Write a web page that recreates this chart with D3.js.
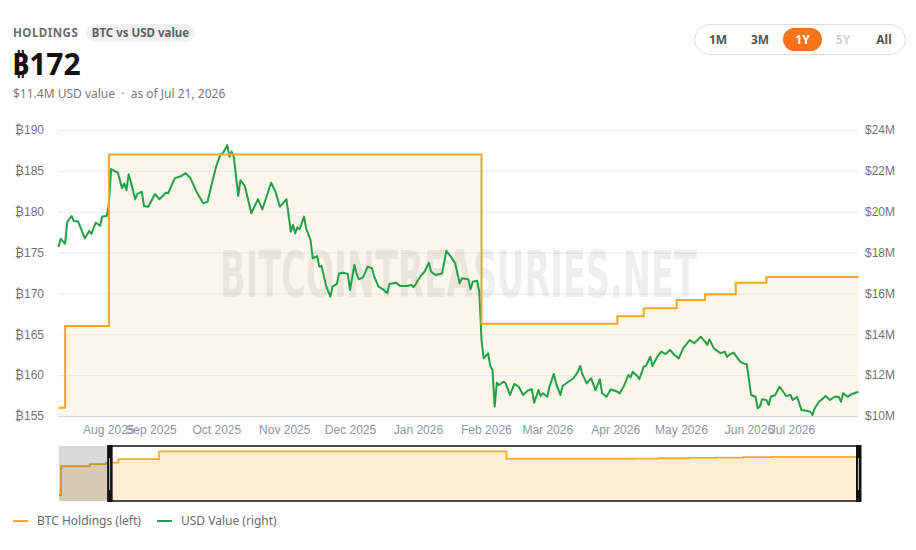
<!DOCTYPE html>
<html>
<head>
<meta charset="utf-8">
<script src="https://cdn.jsdelivr.net/npm/d3@7"></script>
<style>
  body { margin: 0; background: #fff; }
  svg { display: block; }
  .tick text { font-family: "Liberation Sans", Arial, sans-serif; font-size: 12px; }
</style>
</head>
<body>
<div id="chart"></div>
<script>
// ---- data ----
// BTC holdings (left axis), step changes
var holdingDates = ["2025-07-21", "2025-07-24", "2025-08-13", "2026-01-30", "2026-04-02", "2026-04-14",
    "2026-04-29", "2026-05-12", "2026-05-26", "2026-06-09", "2026-07-21"];
var holdingValues = [156, 166, 187, 166.3, 167.2, 168.2, 169.2, 169.9, 171.3, 172, 172];

// holdings before the 1Y window (only seen in the navigator)
var priorDates = ["2025-06-25", "2025-06-26", "2025-07-10", "2025-07-18"];
var priorValues = [66, 146, 152, 156];

// USD value in $M (right axis)
var usdDates = [
    "2025-07-21", "2025-07-22", "2025-07-24", "2025-07-25", "2025-07-27", "2025-07-28", "2025-07-30",
    "2025-08-02", "2025-08-04", "2025-08-05", "2025-08-07", "2025-08-09", "2025-08-10", "2025-08-12", "2025-08-13",
    "2025-08-14", "2025-08-16", "2025-08-17", "2025-08-19", "2025-08-20", "2025-08-21", "2025-08-22", "2025-08-23",
    "2025-08-25", "2025-08-26", "2025-08-28", "2025-08-29", "2025-08-31",
    "2025-09-03", "2025-09-05", "2025-09-08", "2025-09-09", "2025-09-12", "2025-09-15", "2025-09-17", "2025-09-19",
    "2025-09-22", "2025-09-25", "2025-09-27", "2025-09-29",
    "2025-10-01", "2025-10-03", "2025-10-04", "2025-10-06", "2025-10-07", "2025-10-08", "2025-10-09", "2025-10-11",
    "2025-10-12", "2025-10-14", "2025-10-17", "2025-10-20", "2025-10-22", "2025-10-24", "2025-10-26", "2025-10-28",
    "2025-10-30",
    "2025-11-02", "2025-11-04", "2025-11-05", "2025-11-06", "2025-11-07", "2025-11-08", "2025-11-10", "2025-11-11",
    "2025-11-13", "2025-11-14", "2025-11-16", "2025-11-17", "2025-11-18", "2025-11-20", "2025-11-22", "2025-11-23",
    "2025-11-25", "2025-11-26", "2025-11-28", "2025-11-30",
    "2025-12-01", "2025-12-03", "2025-12-04", "2025-12-05", "2025-12-07", "2025-12-09", "2025-12-11", "2025-12-12",
    "2025-12-14", "2025-12-16", "2025-12-18", "2025-12-19", "2025-12-22", "2025-12-24", "2025-12-27", "2025-12-29",
    "2025-12-30", "2025-12-31",
    "2026-01-02", "2026-01-04", "2026-01-06", "2026-01-07", "2026-01-09", "2026-01-12", "2026-01-14", "2026-01-16",
    "2026-01-18", "2026-01-20", "2026-01-21", "2026-01-24", "2026-01-25", "2026-01-26", "2026-01-28", "2026-01-29",
    "2026-01-30", "2026-01-31",
    "2026-02-02", "2026-02-03", "2026-02-04", "2026-02-05", "2026-02-06", "2026-02-07", "2026-02-09", "2026-02-10",
    "2026-02-12", "2026-02-14", "2026-02-16", "2026-02-18", "2026-02-20", "2026-02-22", "2026-02-23", "2026-02-25",
    "2026-02-26", "2026-02-27",
    "2026-03-01", "2026-03-02", "2026-03-04", "2026-03-05", "2026-03-07", "2026-03-08", "2026-03-10", "2026-03-13",
    "2026-03-15", "2026-03-16", "2026-03-17", "2026-03-19", "2026-03-21", "2026-03-23", "2026-03-25", "2026-03-26",
    "2026-03-28", "2026-03-30",
    "2026-04-02", "2026-04-03", "2026-04-05", "2026-04-07", "2026-04-08", "2026-04-09", "2026-04-11", "2026-04-12",
    "2026-04-14", "2026-04-15", "2026-04-17", "2026-04-18", "2026-04-20", "2026-04-22", "2026-04-24", "2026-04-26",
    "2026-04-28", "2026-04-30",
    "2026-05-02", "2026-05-05", "2026-05-07", "2026-05-10", "2026-05-12", "2026-05-13", "2026-05-14", "2026-05-16",
    "2026-05-19", "2026-05-21", "2026-05-22", "2026-05-23", "2026-05-25", "2026-05-28", "2026-05-30", "2026-05-31",
    "2026-06-02", "2026-06-04", "2026-06-05", "2026-06-06", "2026-06-07", "2026-06-09", "2026-06-10", "2026-06-11",
    "2026-06-13", "2026-06-15", "2026-06-18", "2026-06-20", "2026-06-21", "2026-06-23", "2026-06-25", "2026-06-27",
    "2026-06-29", "2026-06-30",
    "2026-07-01", "2026-07-03", "2026-07-06", "2026-07-08", "2026-07-10", "2026-07-12", "2026-07-13", "2026-07-14",
    "2026-07-16", "2026-07-18", "2026-07-21"];
var usdValues = [
    18.27, 18.68, 18.43, 19.50, 19.79, 19.54, 19.52,
    18.69, 19.06, 18.92, 19.46, 19.32, 19.77, 19.79, 20.38,
    22.09, 21.96, 21.93, 21.15, 21.39, 21.06, 21.83, 21.47,
    20.61, 20.87, 20.98, 20.28, 20.24,
    20.87, 20.61, 20.93, 20.90, 21.63, 21.75, 21.88, 21.68,
    20.98, 20.41, 20.49, 21.39,
    22.24, 22.82, 22.86, 23.26, 22.69, 22.94, 22.68, 20.77,
    21.54, 21.26, 19.92, 20.62, 20.11, 20.77, 21.42, 20.98,
    20.24,
    20.61, 19.02, 19.35, 18.94, 19.24, 19.14, 19.76, 19.19,
    18.61, 17.72, 17.83, 17.31, 17.34, 16.41, 15.84, 16.33,
    16.46, 16.98, 17.01, 16.95,
    16.17, 17.39, 16.98, 16.69, 16.79, 17.31, 17.23, 16.85,
    16.33, 16.20, 16.01, 16.46, 16.52, 16.36, 16.36, 16.41,
    16.30, 16.46,
    16.82, 17.06, 17.50, 17.06, 16.90, 16.98, 18.09, 17.80,
    17.47, 16.50, 16.74, 16.69, 16.20, 16.57, 16.62, 16.07,
    13.72, 12.82,
    13.07, 12.45, 12.25, 10.46, 11.63, 11.52, 11.68, 11.60,
    11.03, 11.57, 11.43, 11.03, 11.24, 11.31, 10.65, 11.27,
    10.98, 11.11,
    10.94, 11.43, 12.06, 11.60, 11.03, 11.47, 11.63, 11.85,
    12.17, 12.45, 12.06, 11.60, 11.85, 11.27, 11.80, 11.11,
    10.94, 11.31,
    11.19, 11.11, 11.47, 12.01, 11.89, 12.17, 11.96, 11.80,
    12.41, 12.45, 12.90, 12.45, 12.87, 13.15, 13.03, 13.23,
    12.99, 12.82,
    13.31, 13.72, 13.56, 13.88, 13.64, 13.48, 13.75, 13.31,
    13.07, 13.15, 12.90, 12.99, 13.10, 12.66, 12.55, 12.55,
    11.03, 10.94, 10.38, 10.46, 10.82, 10.78, 10.54, 10.94,
    11.03, 11.43, 10.98, 11.03, 10.78, 10.94, 10.29, 10.26,
    10.21, 10.05,
    10.38, 10.70, 10.98, 10.78, 10.94, 10.94, 10.70, 11.11,
    10.94, 11.08, 11.19];

var btcTicks = [155, 160, 165, 170, 175, 180, 185, 190];
var usdTicks = [10, 12, 14, 16, 18, 20, 22, 24];
var monthTicks = ["2025-08-01", "2025-09-01", "2025-10-01", "2025-11-01", "2025-12-01", "2026-01-01",
    "2026-02-01", "2026-03-01", "2026-04-01", "2026-05-01", "2026-06-01", "2026-07-01"];
var rangeButtons = ["1M", "3M", "1Y", "5Y", "All"];
var legendItems = ["BTC Holdings (left)", "USD Value (right)"];

// ---- drawing ----
var W = 916, H = 550;
var orange = "#f7a823", green = "#23a047", cream = "#fdf6ea";
var parse = d3.utcParse("%Y-%m-%d");
var uiFont = "'Noto Sans', 'Open Sans', sans-serif";

var svg = d3.select("#chart").append("svg")
    .attr("width", W)
    .attr("height", H);

// header
svg.append("text")
    .attr("x", 13).attr("y", 37)
    .attr("font-family", uiFont).attr("font-size", 11.5).attr("font-weight", 700)
    .attr("letter-spacing", 0.5).attr("fill", "#6b6b6b")
    .text("HOLDINGS");
svg.append("rect")
    .attr("x", 86).attr("y", 24).attr("width", 109).attr("height", 18).attr("rx", 9)
    .attr("fill", "#f1f1f1");
svg.append("text")
    .attr("x", 140.5).attr("y", 37).attr("text-anchor", "middle")
    .attr("font-family", uiFont).attr("font-size", 11.5).attr("font-weight", 700).attr("fill", "#5f5f5f")
    .text("BTC vs USD value");
svg.append("text")
    .attr("x", 12).attr("y", 75)
    .attr("font-family", uiFont).attr("font-size", 30).attr("font-weight", 700).attr("fill", "#111")
    .text("₿172");
svg.append("text")
    .attr("x", 13).attr("y", 98)
    .attr("font-family", uiFont).attr("font-size", 12).attr("fill", "#7a7a7a")
    .text("$11.4M USD value \u00a0·\u00a0 as of Jul 21, 2026");

// range buttons
svg.append("rect")
    .attr("x", 694.5).attr("y", 24.5).attr("width", 211).attr("height", 30).attr("rx", 15)
    .attr("fill", "#fff").attr("stroke", "#dedede");
var btnX = [718, 760, 802.5, 843, 884];
rangeButtons.forEach(function (b, i) {
    if (b === "1Y") {
        svg.append("rect")
            .attr("x", btnX[i] - 19.5).attr("y", 28).attr("width", 39).attr("height", 23).attr("rx", 11.5)
            .attr("fill", "#f7731c");
    }
    svg.append("text")
        .attr("x", btnX[i]).attr("y", 44).attr("text-anchor", "middle")
        .attr("font-family", uiFont).attr("font-size", 12).attr("font-weight", 700)
        .attr("fill", b === "1Y" ? "#fff" : (b === "5Y" ? "#cfcfcf" : "#555"))
        .text(b);
});

// scales
var x = d3.scaleUtc()
    .domain([parse("2025-07-21"), parse("2026-07-21")])
    .range([58.5, 858.5]);
var yL = d3.scaleLinear().domain([155, 190]).range([416, 130]);
var yR = d3.scaleLinear().domain([10, 24]).range([416, 130]);

var holdings = holdingDates.map(function (d, i) { return { date: parse(d), value: holdingValues[i] }; });
var usd = usdDates.map(function (d, i) { return { date: parse(d), value: usdValues[i] }; });

// area under holdings
var area = d3.area()
    .curve(d3.curveStepAfter)
    .x(function (d) { return x(d.date); })
    .y0(yL(155))
    .y1(function (d) { return yL(d.value); });
svg.append("path").datum(holdings)
    .attr("d", area)
    .attr("fill", cream);

// gridlines
svg.append("g").selectAll("line")
    .data(btcTicks)
    .enter().append("line")
    .attr("x1", 58).attr("x2", 858)
    .attr("y1", function (d) { return yL(d) + 0.5; })
    .attr("y2", function (d) { return yL(d) + 0.5; })
    .attr("stroke", function (d) { return d === 155 ? "#d2d2d2" : "#e9e9e9"; })
    .attr("stroke-width", 1);

// watermark, squeezed horizontally to its width in the picture
var wm = svg.append("g");
var wmText = wm.append("text")
    .attr("x", 0).attr("y", 0)
    .attr("font-family", "'Liberation Sans Narrow', 'DejaVu Sans Condensed', sans-serif")
    .attr("font-weight", 700).attr("font-size", 64)
    .attr("fill", "#000").attr("fill-opacity", 0.065)
    .text("BITCOINTREASURIES.NET");
var wmNatural = wmText.node().getComputedTextLength();
wm.attr("transform", "translate(220,297) scale(" + (477 / wmNatural) + ",1)");

// USD line
var usdLine = d3.line()
    .x(function (d) { return x(d.date); })
    .y(function (d) { return yR(d.value); });
svg.append("path").datum(usd)
    .attr("d", usdLine)
    .attr("fill", "none")
    .attr("stroke", green)
    .attr("stroke-width", 2)
    .attr("stroke-linejoin", "round");

// holdings line
var holdLine = d3.line()
    .curve(d3.curveStepAfter)
    .x(function (d) { return x(d.date); })
    .y(function (d) { return yL(d.value); });
svg.append("path").datum(holdings)
    .attr("d", holdLine)
    .attr("fill", "none")
    .attr("stroke", orange)
    .attr("stroke-width", 2);

// axes
var leftAxis = svg.append("g")
    .attr("transform", "translate(58,0)")
    .call(d3.axisLeft(yL).tickValues(btcTicks).tickSize(0).tickPadding(14)
        .tickFormat(function (d) { return "₿" + d; }));
var rightAxis = svg.append("g")
    .attr("transform", "translate(858,0)")
    .call(d3.axisRight(yR).tickValues(usdTicks).tickSize(0).tickPadding(7)
        .tickFormat(function (d) { return "$" + d + "M"; }));
var bottomAxis = svg.append("g")
    .attr("transform", "translate(0,416)")
    .call(d3.axisBottom(x).tickValues(monthTicks.map(parse)).tickSize(0).tickPadding(9)
        .tickFormat(d3.utcFormat("%b %Y")));

[leftAxis, rightAxis, bottomAxis].forEach(function (g) {
    g.select(".domain").remove();
    g.selectAll("text").attr("fill", "#737373");
});
bottomAxis.selectAll("text").attr("fill", "#8d95a5");
// first and last month labels are pinned to their tick edge
bottomAxis.selectAll(".tick text")
    .attr("text-anchor", function (d, i, n) {
        return i === 0 ? "start" : (i === n.length - 1 ? "end" : "middle");
    });

// navigator
var navTop = 446, navBottom = 501;
var nx = d3.scaleUtc()
    .domain([parse("2025-06-25"), parse("2026-07-21")])
    .range([59, 858]);
var ny = d3.scaleLinear().domain([50, 202]).range([navBottom, navTop]);
var navData = priorDates.map(function (d, i) { return { date: parse(d), value: priorValues[i] }; })
    .concat(holdings);

svg.append("path").datum(navData)
    .attr("d", d3.area().curve(d3.curveStepAfter)
        .x(function (d) { return nx(d.date); })
        .y0(navBottom)
        .y1(function (d) { return ny(d.value); }))
    .attr("fill", "#fdeed5");
svg.append("path").datum(navData)
    .attr("d", d3.line().curve(d3.curveStepAfter)
        .x(function (d) { return nx(d.date); })
        .y(function (d) { return ny(d.value); }))
    .attr("fill", "none")
    .attr("stroke", "#f6ad2a")
    .attr("stroke-width", 1.8);

var winL = nx(parse("2025-07-21")), winR = nx(parse("2026-07-21"));
// outside-window mask
svg.append("rect")
    .attr("x", 59).attr("y", navTop).attr("width", winL - 59).attr("height", navBottom - navTop)
    .attr("fill", "#000").attr("fill-opacity", 0.15);
// window border
svg.append("line").attr("x1", winL).attr("x2", winR).attr("y1", navTop).attr("y2", navTop)
    .attr("stroke", "#111").attr("stroke-width", 1.5);
svg.append("line").attr("x1", winL).attr("x2", winR).attr("y1", navBottom).attr("y2", navBottom)
    .attr("stroke", "#111").attr("stroke-width", 1.5);
// handles
[winL - 5, winR - 2].forEach(function (hx) {
    svg.append("rect")
        .attr("x", hx).attr("y", navTop - 1).attr("width", 5.5).attr("height", navBottom - navTop + 2)
        .attr("fill", "#111");
    svg.append("line")
        .attr("x1", hx + 2.5).attr("x2", hx + 2.5).attr("y1", 458).attr("y2", 490)
        .attr("stroke", "#bbb").attr("stroke-width", 1);
});

// legend
var legendX = [13, 157];
var legendColors = [orange, green];
legendItems.forEach(function (t, i) {
    svg.append("line")
        .attr("x1", legendX[i]).attr("x2", legendX[i] + 15).attr("y1", 521).attr("y2", 521)
        .attr("stroke", legendColors[i]).attr("stroke-width", 2);
    svg.append("text")
        .attr("x", legendX[i] + 24).attr("y", 525)
        .attr("font-family", uiFont).attr("font-size", 12).attr("fill", "#6b6b6b")
        .text(t);
});
</script>
</body>
</html>
